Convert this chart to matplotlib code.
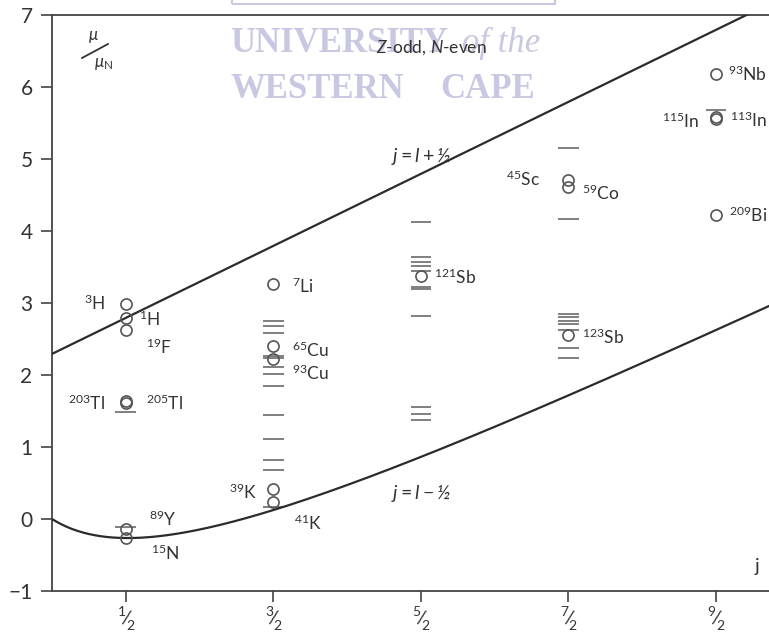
import numpy as np
import matplotlib
matplotlib.use("Agg")
import matplotlib.pyplot as plt
from matplotlib.patches import Rectangle
from matplotlib.lines import Line2D

plt.rcParams['font.family'] = ['Lato', 'DejaVu Sans']
plt.rcParams['mathtext.fontset'] = 'custom'
plt.rcParams['mathtext.rm'] = 'Lato'
plt.rcParams['mathtext.it'] = 'Lato:italic'
plt.rcParams['mathtext.bf'] = 'Lato:bold'

# spin values on the x axis, written as slanted fractions
j_ticks = [0.5, 1.5, 2.5, 3.5, 4.5]
j_tick_num = ['1', '3', '5', '7', '9']
j_tick_den = ['2', '2', '2', '2', '2']
mu_ticks = [-1, 0, 1, 2, 3, 4, 5, 6, 7]
mu_tick_labels = ['\u22121', '0', '1', '2', '3', '4', '5', '6', '7']

# labelled nuclei (measured moments, circles)
circle_j = [0.5, 0.5, 0.5, 0.5, 0.5, 0.5, 0.5,
            1.5, 1.5, 1.5, 1.5, 1.5,
            2.5,
            3.5, 3.5, 3.5,
            4.5, 4.5, 4.5, 4.5]
circle_mu = [2.98, 2.79, 2.63, 1.64, 1.61, -0.14, -0.27,
             3.26, 2.40, 2.22, 0.41, 0.23,
             3.38,
             4.71, 4.61, 2.56,
             6.18, 5.58, 5.56, 4.22]

# other nuclei (measured moments, short bars)
bar_j = [0.5, 0.5,
         1.5, 1.5, 1.5, 1.5, 1.5, 1.5, 1.5, 1.5, 1.5, 1.5, 1.5, 1.5, 1.5,
         2.5, 2.5, 2.5, 2.5, 2.5, 2.5, 2.5, 2.5, 2.5, 2.5, 2.5,
         3.5, 3.5, 3.5, 3.5, 3.5, 3.5, 3.5, 3.5, 3.5,
         4.5]
bar_mu = [1.48, -0.11,
          2.75, 2.68, 2.58, 2.26, 2.23, 2.11, 2.02, 1.85, 1.45, 1.11, 0.82, 0.68, 0.17,
          4.13, 3.64, 3.57, 3.51, 3.45, 3.22, 3.19, 2.82, 1.55, 1.46, 1.37,
          5.15, 4.17, 2.85, 2.80, 2.75, 2.71, 2.62, 2.38, 2.24,
          5.68]

# nucleus labels: text, x, y, horizontal alignment
labels = [
    (r'$^{3}$H', 0.36, 3.00, 'right'),
    (r'$^{1}$H', 0.59, 2.78, 'left'),
    (r'$^{19}$F', 0.64, 2.38, 'left'),
    (r'$^{203}$Tl', 0.36, 1.60, 'right'),
    (r'$^{205}$Tl', 0.64, 1.60, 'left'),
    (r'$^{89}$Y', 0.66, 0.00, 'left'),
    (r'$^{15}$N', 0.67, -0.47, 'left'),
    (r'$^{7}$Li', 1.63, 3.23, 'left'),
    (r'$^{65}$Cu', 1.63, 2.34, 'left'),
    (r'$^{93}$Cu', 1.63, 2.03, 'left'),
    (r'$^{39}$K', 1.39, 0.37, 'right'),
    (r'$^{41}$K', 1.64, -0.06, 'left'),
    (r'$^{121}$Sb', 2.59, 3.36, 'left'),
    (r'$^{45}$Sc', 3.31, 4.72, 'right'),
    (r'$^{59}$Co', 3.59, 4.53, 'left'),
    (r'$^{123}$Sb', 3.59, 2.53, 'left'),
    (r'$^{93}$Nb', 4.845, 6.18, 'right'),
    (r'$^{115}$In', 4.39, 5.52, 'right'),
    (r'$^{113}$In', 4.845, 5.54, 'right'),
    (r'$^{209}$Bi', 4.845, 4.22, 'right'),
]

g_s = 5.586  # proton spin g-factor
ink = '#333333'

fig = plt.figure(figsize=(7.69, 6.38), dpi=100)
ax = fig.add_axes([52 / 769, 1 - 591 / 638, 1 - 52 / 769, (591 - 15) / 638])
ax.patch.set_alpha(0)
ax.set_xlim(0, 4.86)
ax.set_ylim(-1, 7)

# Schmidt lines
jj = np.linspace(0, 4.86, 500)
upper = jj - 0.5 + g_s / 2
lower = jj / (jj + 1) * (jj + 1.5 - g_s / 2)
ax.plot(jj, upper, color='#2b2b2b', lw=1.6, zorder=3)
ax.plot(jj, lower, color='#2b2b2b', lw=1.6, zorder=3)

# measured moments
ax.hlines(bar_mu, np.array(bar_j) - 0.07, np.array(bar_j) + 0.07,
          color='#6a6a6a', lw=1.2, zorder=2)
ax.plot(circle_j, circle_mu, 'o', ms=8, mfc='none', mec='#555555', mew=1.2, zorder=4)

for txt, x, y, ha in labels:
    ax.text(x, y, txt, ha=ha, va='center', fontsize=12.5, color=ink)

ax.text(2.5, 5.03, r'$j=l+$' + '\u00bd', ha='center', va='center',
        fontsize=14, color=ink, style='italic')
ax.text(2.5, 0.36, r'$j=l-$' + '\u00bd', ha='center', va='center',
        fontsize=14, color=ink, style='italic')
ax.text(2.57, 6.55, r'$Z$-odd, $N$-even', ha='center', va='center',
        fontsize=12.5, color=ink)
ax.text(4.78, -0.66, 'j', ha='center', va='center', fontsize=14, color=ink)

# axis quantity label  mu / mu_N
fig.text(93 / 769, 1 - 37 / 638, r'$\mu$', ha='center', va='center', fontsize=12, color=ink)
fig.add_artist(Line2D([82 / 769, 108 / 769], [1 - 58 / 638, 1 - 44 / 638],
                      transform=fig.transFigure, color=ink, lw=1.3))
fig.text(104 / 769, 1 - 64 / 638, r'$\mu_{\mathrm{N}}$', ha='center', va='center',
         fontsize=12, color=ink)

# x tick labels as slanted fractions
ax.set_xticks(j_ticks)
ax.set_xticklabels([])
for jt, num, den in zip(j_ticks, j_tick_num, j_tick_den):
    ax.annotate(num, (jt, 0), xycoords=('data', 'axes fraction'),
                xytext=(-3, -15), textcoords='offset points',
                ha='center', va='center', fontsize=10, color=ink)
    ax.annotate('/', (jt, 0), xycoords=('data', 'axes fraction'),
                xytext=(0, -19.5), textcoords='offset points',
                ha='center', va='center', fontsize=14, color=ink, rotation=-10)
    ax.annotate(den, (jt, 0), xycoords=('data', 'axes fraction'),
                xytext=(3, -25), textcoords='offset points',
                ha='center', va='center', fontsize=10, color=ink)

ax.set_yticks(mu_ticks)
ax.set_yticklabels(mu_tick_labels, fontsize=15, color=ink)
ax.tick_params(direction='out', length=8, width=1.2, color='#444444', pad=6)
for side in ['left', 'bottom', 'top']:
    ax.spines[side].set_color('#444444')
    ax.spines[side].set_linewidth(1.3)
ax.spines['right'].set_visible(False)

# library watermark, behind the plot
wm = '#c8c8e2'
fig.text(230 / 769, 1 - 43 / 638, 'UNIVERSITY', fontsize=25, fontweight='bold',
         family='Liberation Serif', color=wm, ha='left', va='center', zorder=-1)
fig.text(462 / 769, 1 - 43 / 638, 'of the', fontsize=25, style='italic',
         family='Liberation Serif', color=wm, ha='left', va='center', zorder=-1)
fig.text(230 / 769, 1 - 89 / 638, 'WESTERN', fontsize=25, fontweight='bold',
         family='Liberation Serif', color=wm, ha='left', va='center', zorder=-1)
fig.text(440 / 769, 1 - 89 / 638, 'CAPE', fontsize=25, fontweight='bold',
         family='Liberation Serif', color=wm, ha='left', va='center', zorder=-1)
fig.add_artist(Rectangle((232 / 769, 1 - 4 / 638), 323 / 769, 10 / 638,
                         transform=fig.transFigure, fill=False, ec=wm, lw=1.5,
                         zorder=-1))

fig.savefig('out.png', dpi=100)
